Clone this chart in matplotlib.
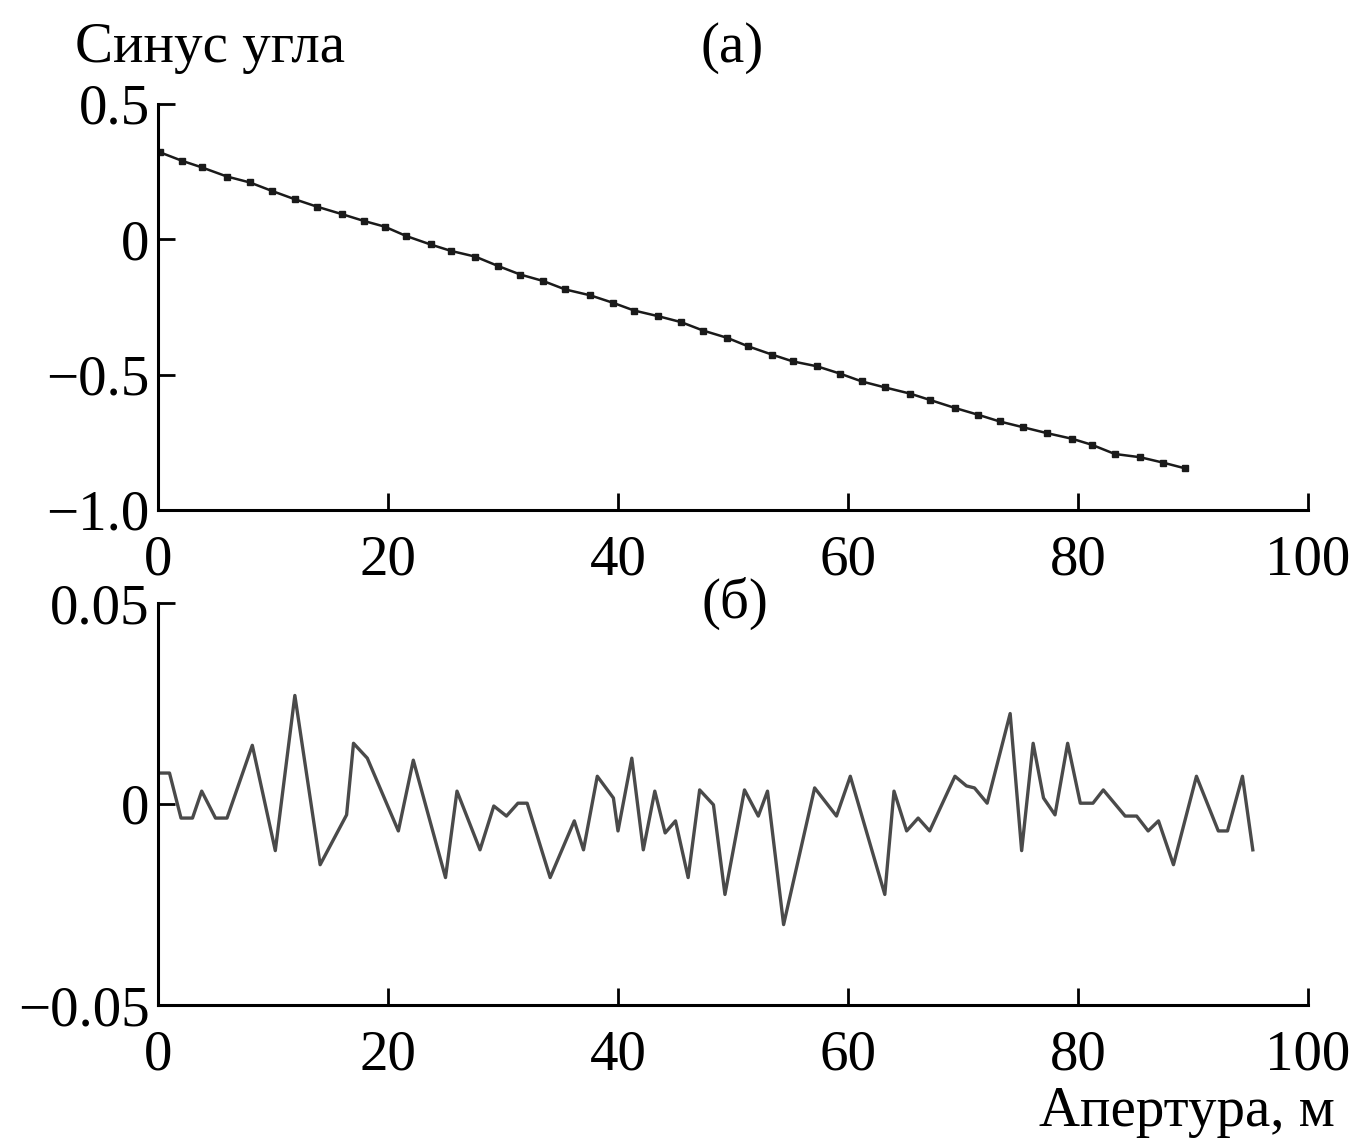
import matplotlib
matplotlib.use("Agg")
import matplotlib.pyplot as plt

# ---- data ----
# (а) sine of the angle, markers every ~2 m
top_x = [0.2, 2.1, 3.8, 6.0, 8.0, 9.9, 11.9, 13.8, 16.0, 17.9, 19.7, 21.6, 23.7, 25.5,
         27.6, 29.6, 31.5, 33.5, 35.4, 37.6, 39.6, 41.4, 43.5, 45.5, 47.4, 49.5, 51.3,
         53.4, 55.2, 57.3, 59.3, 61.2, 63.2, 65.4, 67.1, 69.3, 71.3, 73.2, 75.2, 77.3,
         79.5, 81.2, 83.2, 85.4, 87.4, 89.3]
top_y = [0.321, 0.290, 0.266, 0.232, 0.210, 0.179, 0.148, 0.121, 0.093, 0.068, 0.047,
         0.012, -0.019, -0.043, -0.064, -0.099, -0.130, -0.154, -0.185, -0.207, -0.235,
         -0.263, -0.284, -0.306, -0.337, -0.364, -0.395, -0.426, -0.451, -0.469, -0.496,
         -0.525, -0.547, -0.570, -0.593, -0.623, -0.648, -0.673, -0.694, -0.716, -0.737,
         -0.759, -0.793, -0.805, -0.825, -0.846]

# (б) residuals
bot_x = [0.0, 1.0, 2.0, 3.0, 3.8, 5.0, 6.0, 8.2, 10.2, 11.9, 14.1, 16.4, 17.0, 18.2,
         20.9, 22.2, 25.0, 26.0, 28.0, 29.2, 30.3, 31.3, 32.1, 34.1, 36.2, 37.0, 38.2,
         39.6, 40.0, 41.2, 42.2, 43.2, 44.1, 45.0, 46.1, 47.1, 48.3, 49.3, 51.0, 52.2,
         53.0, 54.4, 57.1, 59.0, 60.2, 63.2, 64.0, 65.1, 66.1, 67.1, 69.3, 70.3, 71.0,
         72.1, 74.1, 75.1, 76.1, 77.0, 78.0, 79.1, 80.2, 81.3, 82.2, 84.1, 85.1, 86.1,
         87.0, 88.3, 90.3, 92.2, 93.0, 94.3, 95.2]
bot_y = [0.0077, 0.0077, -0.0035, -0.0035, 0.0032, -0.0035, -0.0035, 0.0146, -0.0116,
         0.0270, -0.0151, -0.0027, 0.0151, 0.0114, -0.0067, 0.0109, -0.0183, 0.0032,
         -0.0114, -0.0005, -0.0030, 0.0002, 0.0002, -0.0183, -0.0042, -0.0114, 0.0069,
         0.0015, -0.0067, 0.0114, -0.0114, 0.0032, -0.0072, -0.0042, -0.0183, 0.0035,
         -0.0002, -0.0225, 0.0035, -0.0030, 0.0032, -0.0300, 0.0040, -0.0030, 0.0069,
         -0.0225, 0.0032, -0.0067, -0.0035, -0.0067, 0.0069, 0.0045, 0.0040, 0.0002,
         0.0225, -0.0116, 0.0151, 0.0015, -0.0027, 0.0151, 0.0002, 0.0002, 0.0035,
         -0.0030, -0.0030, -0.0067, -0.0042, -0.0151, 0.0069, -0.0067, -0.0067, 0.0069,
         -0.0114]

x_ticks = [0, 20, 40, 60, 80, 100]
x_labels = ["0", "20", "40", "60", "80", "100"]
top_yticks = [0.5, 0, -0.5, -1.0]
top_ylabels = ["0.5", "0", "\u22120.5", "\u22121.0"]
bot_yticks = [0.05, 0, -0.05]
bot_ylabels = ["0.05", "0", "\u22120.05"]

ylabel_text = "Синус угла"
xlabel_text = "Апертура, м"
title_a = "(а)"
title_b = "(б)"

# ---- figure ----
plt.rcParams['font.family'] = ['Liberation Serif', 'DejaVu Serif']
W, H = 1350, 1141
fig = plt.figure(figsize=(W / 100, H / 100), dpi=100)

def px_axes(left, right, top, bottom):
    return fig.add_axes([left / W, 1 - bottom / H, (right - left) / W, (bottom - top) / H])

ax1 = px_axes(158, 1308, 104, 510)
ax2 = px_axes(158, 1308, 603, 1005)

FS = 41
for ax in (ax1, ax2):
    ax.spines['top'].set_visible(False)
    ax.spines['right'].set_visible(False)
    ax.spines['left'].set_linewidth(2.2)
    ax.spines['bottom'].set_linewidth(2.2)
    ax.set_xlim(0, 100)
    ax.set_xticks(x_ticks)
    ax.set_xticklabels(x_labels)
    ax.tick_params(axis='both', direction='in', length=12, width=2.0, labelsize=FS, color='black')
    ax.tick_params(axis='x', pad=18)
    ax.tick_params(axis='y', pad=6)
    ax.set_facecolor('none')

ax1.plot(top_x, top_y, color='#1a1a1a', lw=1.8, marker='s', ms=4.5, mfc='#1a1a1a', mec='#1a1a1a')
ax1.set_ylim(-1.0, 0.5)
ax1.set_yticks(top_yticks)
ax1.set_yticklabels(top_ylabels)

ax2.plot(bot_x, bot_y, color='#4a4a4a', lw=2.4)
ax2.set_ylim(-0.05, 0.05)
ax2.set_yticks(bot_yticks)
ax2.set_yticklabels(bot_ylabels)

fig.text(75 / W, 1 - 48 / H, ylabel_text, fontsize=FS, ha='left', va='center')
fig.text(732 / W, 1 - 48 / H, title_a, fontsize=FS, ha='center', va='center')
fig.text(735 / W, 1 - 603 / H, title_b, fontsize=FS, ha='center', va='center')
fig.text(1335 / W, 1 - 1112 / H, xlabel_text, fontsize=FS, ha='right', va='center')

fig.savefig("out.png", dpi=100, facecolor='white')
